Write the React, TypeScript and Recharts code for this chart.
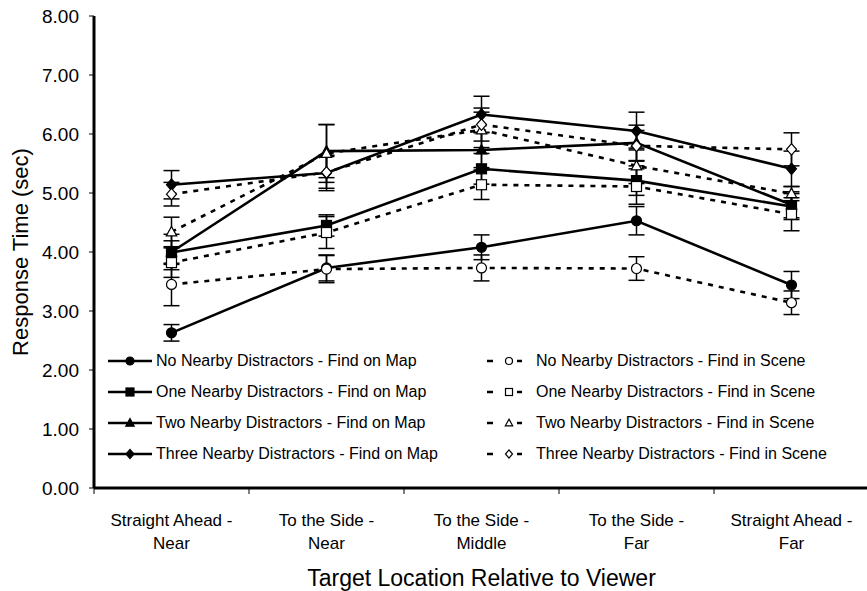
import React from 'react';
import { LineChart, Line, XAxis, YAxis, ErrorBar } from 'recharts';

// x categories (two-line labels)
const categories = [
  ['Straight Ahead -', 'Near'],
  ['To the Side -', 'Near'],
  ['To the Side -', 'Middle'],
  ['To the Side -', 'Far'],
  ['Straight Ahead -', 'Far'],
];

// Find on Map (solid, filled markers)
const noMap = [2.63, 3.73, 4.08, 4.53, 3.44];
const oneMap = [3.99, 4.45, 5.41, 5.21, 4.77];
const twoMap = [4.0, 5.71, 5.73, 5.85, 4.8];
const threeMap = [5.14, 5.34, 6.33, 6.05, 5.41];

// Find in Scene (dashed, open markers)
const noScene = [3.45, 3.71, 3.73, 3.72, 3.14];
const oneScene = [3.82, 4.33, 5.14, 5.11, 4.64];
const twoScene = [4.34, 5.67, 6.07, 5.46, 4.99];
const threeScene = [4.98, 5.35, 6.16, 5.8, 5.74];

// error bar half-lengths
const noMapErr = [0.14, 0.22, 0.21, 0.24, 0.23];
const oneMapErr = [0.2, 0.18, 0.26, 0.25, 0.22];
const twoMapErr = [0.3, 0.45, 0.3, 0.3, 0.22];
const threeMapErr = [0.24, 0.3, 0.31, 0.32, 0.3];
const noSceneErr = [0.36, 0.23, 0.22, 0.2, 0.2];
const oneSceneErr = [0.25, 0.27, 0.25, 0.3, 0.28];
const twoSceneErr = [0.25, 0.49, 0.3, 0.3, 0.12];
const threeSceneErr = [0.2, 0.27, 0.28, 0.26, 0.28];

const yTicks = [0, 1, 2, 3, 4, 5, 6, 7, 8];

type Shape = 'circle' | 'square' | 'triangle' | 'diamond';

const series: { key: string; name: string; values: number[]; errors: number[]; shape: Shape; filled: boolean }[] = [
  { key: 'noMap', name: 'No Nearby Distractors - Find on Map', values: noMap, errors: noMapErr, shape: 'circle', filled: true },
  { key: 'oneMap', name: 'One Nearby Distractors - Find on Map', values: oneMap, errors: oneMapErr, shape: 'square', filled: true },
  { key: 'twoMap', name: 'Two Nearby Distractors - Find on Map', values: twoMap, errors: twoMapErr, shape: 'triangle', filled: true },
  { key: 'threeMap', name: 'Three Nearby Distractors - Find on Map', values: threeMap, errors: threeMapErr, shape: 'diamond', filled: true },
  { key: 'noScene', name: 'No Nearby Distractors - Find in Scene', values: noScene, errors: noSceneErr, shape: 'circle', filled: false },
  { key: 'oneScene', name: 'One Nearby Distractors - Find in Scene', values: oneScene, errors: oneSceneErr, shape: 'square', filled: false },
  { key: 'twoScene', name: 'Two Nearby Distractors - Find in Scene', values: twoScene, errors: twoSceneErr, shape: 'triangle', filled: false },
  { key: 'threeScene', name: 'Three Nearby Distractors - Find in Scene', values: threeScene, errors: threeSceneErr, shape: 'diamond', filled: false },
];

// draw order (later = on top)
const drawOrder = ['twoMap', 'oneMap', 'noMap', 'threeMap', 'noScene', 'oneScene', 'twoScene', 'threeScene'];

const data = categories.map((c, i) => {
  const row: Record<string, any> = { cat: c.join(' ') };
  series.forEach((s) => {
    row[s.key] = s.values[i];
    row[s.key + 'Err'] = s.errors[i];
  });
  return row;
});

const W = 880;
const H = 591;
const PLOT_W = 775;
const HALF = PLOT_W / 10;
const FONT = '"Liberation Sans", Arial, sans-serif';

const Marker = ({ cx, cy, shape, filled, size = 10 }: { cx: number; cy: number; shape: Shape; filled: boolean; size?: number }) => {
  const fill = filled ? '#000' : '#fff';
  const s = size / 2;
  const common = { fill, stroke: '#000', strokeWidth: 1.2 };
  if (shape === 'circle') return <circle cx={cx} cy={cy} r={s} {...common} />;
  if (shape === 'square') return <rect x={cx - s} y={cy - s} width={size} height={size} {...common} />;
  if (shape === 'triangle')
    return <polygon points={`${cx},${cy - s * 1.1} ${cx + s * 1.05},${cy + s * 0.8} ${cx - s * 1.05},${cy + s * 0.8}`} {...common} />;
  return <polygon points={`${cx},${cy - s * 1.15} ${cx + s},${cy} ${cx},${cy + s * 1.15} ${cx - s},${cy}`} {...common} />;
};

const XTick = (props: any) => {
  const { x, y, index } = props;
  const lines = categories[index] || [];
  return (
    <g>
      <line x1={x - HALF} x2={x - HALF} y1={y} y2={y + 6} stroke="#000" strokeWidth={1} />
      <text x={x} y={y} textAnchor="middle" fontSize={17} fill="#000" fontFamily={FONT}>
        <tspan x={x} dy={38}>{lines[0]}</tspan>
        <tspan x={x} dy={23}>{lines[1]}</tspan>
      </text>
    </g>
  );
};

const LegendIcon = ({ shape, filled }: { shape: Shape; filled: boolean }) => (
  <svg width={44} height={14} style={{ display: 'block', flex: '0 0 auto' }}>
    {filled ? (
      <line x1={0} x2={44} y1={7} y2={7} stroke="#000" strokeWidth={2.5} />
    ) : (
      <g stroke="#000" strokeWidth={2.5}>
        <line x1={0} x2={6} y1={7} y2={7} />
        <line x1={30} x2={35} y1={7} y2={7} />
      </g>
    )}
    <Marker cx={22} cy={7} shape={shape} filled={filled} size={filled ? 8 : 7} />
  </svg>
);

const LegendColumn = ({ items, left, gap }: { items: typeof series; left: number; gap: number }) => (
  <div style={{ position: 'absolute', left, top: 345 }}>
    {items.map((s) => (
      <div key={s.key} style={{ display: 'flex', alignItems: 'center', height: 31 }}>
        <LegendIcon shape={s.shape} filled={s.filled} />
        <span style={{ marginLeft: gap, fontSize: 16, whiteSpace: 'nowrap', color: '#000' }}>{s.name}</span>
      </div>
    ))}
  </div>
);

export default function App() {
  return (
    <div
      style={{
        position: 'absolute',
        left: 0,
        top: 0,
        width: 867,
        height: 591,
        overflow: 'hidden',
        background: '#fff',
        fontFamily: FONT,
      }}
    >
      <LineChart width={W} height={H} data={data} margin={{ top: 16, right: 11, bottom: 0, left: 0 }}>
        <XAxis
          dataKey="cat"
          padding={{ left: HALF, right: HALF }}
          interval={0}
          tickLine={false}
          tickSize={0}
          tickMargin={0}
          height={103}
          axisLine={{ stroke: '#000', strokeWidth: 3 }}
          tick={<XTick />}
          label={{ value: 'Target Location Relative to Viewer', position: 'insideBottom', offset: 5, fontSize: 23, fill: '#000' }}
        />
        <XAxis
          xAxisId="top"
          dataKey="cat"
          orientation="top"
          height={0}
          padding={{ left: HALF, right: HALF }}
          tick={false}
          tickLine={false}
          axisLine={{ stroke: '#000', strokeWidth: 3 }}
        />
        <YAxis
          domain={[0, 8]}
          ticks={yTicks}
          interval={0}
          width={94}
          tickSize={5}
          tickMargin={10}
          tickFormatter={(v: number) => v.toFixed(2)}
          tick={{ fontSize: 19, fill: '#000' }}
          tickLine={{ stroke: '#000', strokeWidth: 1 }}
          axisLine={{ stroke: '#000', strokeWidth: 3 }}
          label={{ value: 'Response Time (sec)', angle: -90, position: 'center', dx: -27, fontSize: 22, fill: '#000' }}
        />
        {drawOrder.map((k) => {
          const s = series.find((x) => x.key === k)!;
          return (
            <Line
              key={s.key}
              dataKey={s.key}
              name={s.name}
              type="linear"
              stroke="#000"
              strokeWidth={2.6}
              strokeDasharray={s.filled ? undefined : '5 6'}
              isAnimationActive={false}
              dot={(p: any) => (
                <g key={`${s.key}-${p.index}`}>
                  <Marker cx={p.cx} cy={p.cy} shape={s.shape} filled={s.filled} />
                </g>
              )}
              activeDot={false}
            >
              <ErrorBar dataKey={s.key + 'Err'} width={8} strokeWidth={1.5} stroke="#000" direction="y" />
            </Line>
          );
        })}
      </LineChart>
      <LegendColumn items={series.filter((s) => s.filled)} left={108} gap={4} />
      <LegendColumn items={series.filter((s) => !s.filled)} left={487} gap={5} />
    </div>
  );
}
